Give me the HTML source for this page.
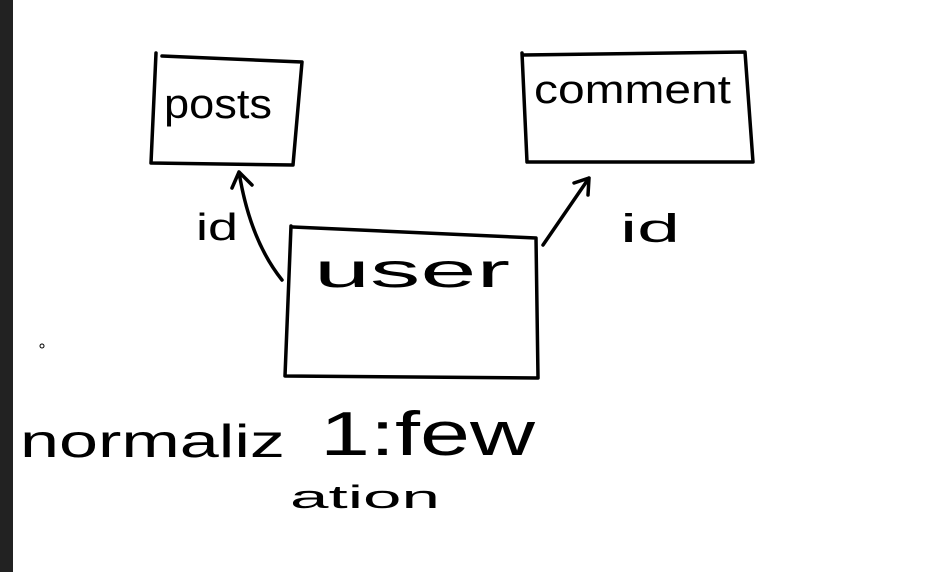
<!DOCTYPE html>
<html><head><style>
html,body{margin:0;padding:0;background:#fff;}
svg{display:block}
text{font-family:"Liberation Sans",sans-serif;fill:#000;}
</style></head><body>
<svg width="944" height="572" viewBox="0 0 944 572" xmlns="http://www.w3.org/2000/svg">
<rect x="0" y="0" width="13" height="572" fill="#222"/>
<g fill="none" stroke="#000" stroke-width="3.5" stroke-linecap="round" stroke-linejoin="round">
<path d="M156 53 L151 163 L293 165 L302 62 L162 56"/>
<path d="M522 53 L527 162 L753 162 L745 52 L523 55"/>
<path d="M291 226 L285 376 L538 378 L536 238 L293 227"/>
<path d="M282 280 Q250 240 239 172 M232 188 L239 172 L252 185"/>
<path d="M543 245 L589 178 M574 183 L589 178 L588 195"/>
</g>
<circle cx="42" cy="346" r="2" fill="none" stroke="#000" stroke-width="1"/>
<text x="164" y="118" font-size="42" textLength="108" lengthAdjust="spacingAndGlyphs">posts</text>
<text x="534" y="103" font-size="40" textLength="197" lengthAdjust="spacingAndGlyphs">comment</text>
<text x="314" y="287" font-size="48" textLength="196" lengthAdjust="spacingAndGlyphs">user</text>
<text x="196" y="240" font-size="38" textLength="42" lengthAdjust="spacingAndGlyphs">id</text>
<text x="620" y="242" font-size="40" textLength="60" lengthAdjust="spacingAndGlyphs">id</text>
<text x="20" y="457" font-size="46" textLength="265" lengthAdjust="spacingAndGlyphs">normaliz</text>
<text x="320" y="455" font-size="62" textLength="215" lengthAdjust="spacingAndGlyphs">1:few</text>
<text x="290" y="508" font-size="32" textLength="150" lengthAdjust="spacingAndGlyphs">ation</text>
</svg>
</body></html>
